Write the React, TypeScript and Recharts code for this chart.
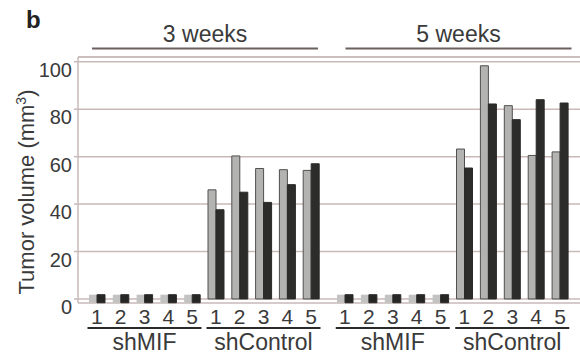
import { Bar, BarChart, CartesianGrid, Cell, ReferenceLine, XAxis, YAxis } from "recharts";

const mice = ["1", "2", "3", "4", "5"];
const groups = ["shMIF", "shControl"];
const weeks = ["3 weeks", "5 weeks"];
const yTicks = [0, 20, 40, 60, 80, 100];

// two tumours per mouse (light / dark bar); shMIF mice had none
const week3Light = [0, 0, 0, 0, 0, 46, 60.3, 55, 54.5, 54.2];
const week3Dark = [0, 0, 0, 0, 0, 37.6, 45, 40.7, 48.2, 57];
const week5Light = [0, 0, 0, 0, 0, 63.2, 98.3, 81.5, 60.5, 62];
const week5Dark = [0, 0, 0, 0, 0, 55.2, 82.2, 75.6, 84, 82.6];

const FONT = "Arial, 'Liberation Sans', Helvetica, sans-serif";
const TEXT = "#3a3a3a";
const GRID = "#c9bab8";
const BAND = 23.9;

const rows = (light: number[], dark: number[]) =>
  light.map((v, i) => ({
    id: `${groups[Math.floor(i / 5)]}-${mice[i % 5]}`,
    light: v,
    dark: dark[i],
  }));

// a zero reading is drawn as a small square straddling the baseline
const marker = (key: "light" | "dark") => (d: any) => (d[key] === 0 ? [-1.6, 1.8] : d[key]);

function BottomTick({ x, y, index }: any) {
  const mid = index % 5 === 2;
  return (
    <g fontFamily={FONT} fill={TEXT}>
      <text x={x} y={y + 21} textAnchor="middle" fontSize={21}>
        {mice[index % 5]}
      </text>
      {mid && <line x1={x - 57} x2={x + 57} y1={y + 25} y2={y + 25} stroke="#2a2a2a" strokeWidth={2} />}
      {mid && (
        <text x={x} y={y + 47} textAnchor="middle" fontSize={23}>
          {groups[Math.floor(index / 5)]}
        </text>
      )}
    </g>
  );
}

const topTick = (week: string, shift: number) =>
  function TopTick({ x, y, index }: any) {
    if (index !== 4) return <g />;
    const cx = x + BAND / 2 + shift;
    return (
      <g fontFamily={FONT} fill={TEXT}>
        <text x={cx} y={y - 15.5} textAnchor="middle" fontSize={23}>
          {week}
        </text>
        <line x1={cx - 113} x2={cx + 113} y1={y - 8.5} y2={y - 8.5} stroke="#6b605d" strokeWidth={2} />
      </g>
    );
  };

function YTick({ x, y, payload }: any) {
  return (
    <text x={x} y={y + 15} textAnchor="end" fontSize={20} fill={TEXT} fontFamily={FONT}>
      {payload.value}
    </text>
  );
}

function AxisTitle() {
  return (
    <g fontFamily={FONT} fill={TEXT}>
      <text x={26} y={28} fontSize={24} fontWeight="bold" fill="#222">
        b
      </text>
      <text transform="translate(34,192) rotate(-90)" textAnchor="middle" fontSize={22}>
        Tumor volume (mm<tspan fontSize={14} dy={-8}>3</tspan>
        <tspan dy={8}>)</tspan>
      </text>
    </g>
  );
}

interface PanelProps {
  light: number[];
  dark: number[];
  week: string;
  shift: number;
  first?: boolean;
  width: number;
  padding: { left: number; right: number };
}

function Panel({ light, dark, week, shift, first, width, padding }: PanelProps) {
  const data = rows(light, dark);
  return (
    <BarChart
      width={width}
      height={361}
      data={data}
      margin={{ top: 0, right: 0, bottom: 0, left: 0 }}
      barSize={8}
      barGap={0}
    >
      <CartesianGrid vertical={false} stroke={GRID} strokeWidth={1.5} />
      <ReferenceLine y={102} stroke={GRID} strokeWidth={1.5} />
      <XAxis
        dataKey="id"
        height={58}
        padding={padding}
        axisLine={false}
        tickLine={false}
        tickSize={0}
        tickMargin={0}
        interval={0}
        tick={<BottomTick />}
      />
      <XAxis
        xAxisId="top"
        orientation="top"
        dataKey="id"
        height={57}
        padding={padding}
        axisLine={false}
        tickLine={false}
        tickSize={0}
        tickMargin={0}
        interval={0}
        tick={topTick(week, shift)}
      />
      <YAxis
        domain={[-1.7, 102]}
        ticks={yTicks}
        hide={!first}
        width={first ? 78 : 0}
        axisLine={{ stroke: GRID, strokeWidth: 1.5 }}
        tickLine={{ stroke: GRID, strokeWidth: 1.5 }}
        tickSize={4}
        tickMargin={2}
        tick={<YTick />}
        label={first ? <AxisTitle /> : undefined}
      />
      <Bar dataKey={marker("light")} isAnimationActive={false} stroke="#505050" strokeWidth={1}>
        {data.map((d) => (
          <Cell
            key={d.id}
            fill={d.light === 0 ? "#c2c2c2" : "#b3b3b1"}
            stroke={d.light === 0 ? "none" : "#505050"}
          />
        ))}
      </Bar>
      <Bar dataKey={marker("dark")} isAnimationActive={false} stroke="#2a2a28" strokeWidth={1}>
        {data.map((d) => (
          <Cell key={d.id} fill={d.dark === 0 ? "#262626" : "#2c2c2a"} />
        ))}
      </Bar>
    </BarChart>
  );
}

export default function App() {
  return (
    <div style={{ position: "absolute", left: 0, top: 0, width: 580, height: 361, display: "flex", background: "#fff" }}>
      <Panel light={week3Light} dark={week3Dark} week={weeks[0]} shift={1} first width={328} padding={{ left: 7, right: 5 }} />
      <Panel light={week5Light} dark={week5Dark} week={weeks[1]} shift={6} width={252} padding={{ left: 5, right: 8 }} />
    </div>
  );
}
